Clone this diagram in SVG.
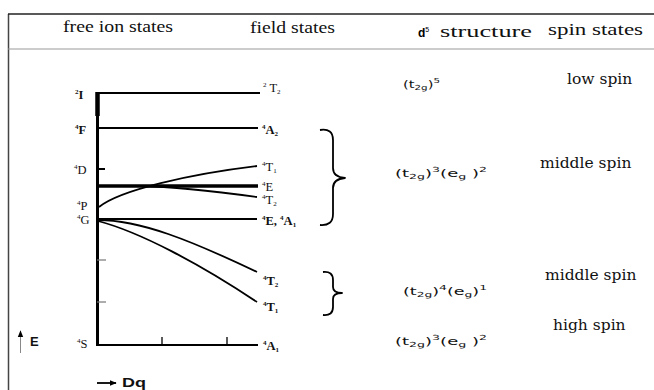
<svg xmlns="http://www.w3.org/2000/svg" width="654" height="390" viewBox="0 0 654 390">
<style>
.hdr{font-family:"Liberation Serif","Times New Roman",serif;font-size:16px;fill:#111}
.spin{font-family:"DejaVu Serif","Liberation Serif",serif;font-size:15.5px;fill:#111}
.lab{font-family:"Liberation Serif","Times New Roman",serif;font-size:12.5px;fill:#111}
.labb{font-family:"Liberation Serif","Times New Roman",serif;font-size:12.5px;font-weight:bold;fill:#111}
.form{font-family:"DejaVu Sans","Liberation Sans",sans-serif;font-size:10px;fill:#111}
.sup{font-size:7px}
.ax{font-family:"Liberation Sans",Arial,sans-serif;font-size:13px;font-weight:bold;fill:#111}
.ln{stroke:#000;stroke-width:2;fill:none}
.cv{stroke:#000;stroke-width:1.8;fill:none}
.br{stroke:#000;stroke-width:1.8;fill:none;stroke-linejoin:round}
.tk{stroke:#777;stroke-width:1.2}
</style>
<defs>
<marker id="ah" viewBox="0 0 10 10" refX="9" refY="5" markerWidth="7" markerHeight="7" orient="auto" markerUnits="userSpaceOnUse">
<path d="M0,1 L10,5 L0,9 Z" fill="#000"/>
</marker>
</defs>
<rect width="654" height="390" fill="#fff"/>
<g id="frame">
<line x1="8.5" y1="14" x2="8.5" y2="390" stroke="#444" stroke-width="1.5"/>
<line x1="8" y1="14" x2="654" y2="14" stroke="#222" stroke-width="1.5"/>
<line x1="8" y1="49" x2="654" y2="49" stroke="#999" stroke-width="1"/>
</g>
<g id="header">
<text class="hdr" x="63" y="32" textLength="110" lengthAdjust="spacingAndGlyphs">free ion states</text>
<text class="hdr" x="250" y="33" textLength="85" lengthAdjust="spacingAndGlyphs">field states</text>
<text x="418" y="37"><tspan font-family="Liberation Sans, Arial, sans-serif" font-size="12" font-weight="bold">d</tspan><tspan font-family="Liberation Sans, Arial, sans-serif" font-size="7" dy="-5">5</tspan></text>
<text class="hdr" x="440" y="37" textLength="92" lengthAdjust="spacingAndGlyphs">structure</text>
<text class="hdr" x="548" y="35" textLength="95" lengthAdjust="spacingAndGlyphs">spin states</text>
</g>
<g id="connectors">
<line x1="97.5" y1="92" x2="97.5" y2="346" stroke="#000" stroke-width="3"/>
<line x1="97.5" y1="92" x2="97.5" y2="116" stroke="#000" stroke-width="4.5"/>
<line class="ln" x1="97" y1="93" x2="260" y2="93"/>
<line class="ln" x1="97" y1="128" x2="258" y2="128"/>
<line class="ln" x1="97" y1="169" x2="105" y2="169"/>
<line x1="97" y1="186" x2="258" y2="186" stroke="#000" stroke-width="3.5"/>
<path class="cv" d="M99,207 C120,190 190,174 257,166"/>
<path class="cv" d="M140,186 C180,187 220,192 257,197"/>
<line class="ln" x1="97" y1="219" x2="257" y2="219"/>
<path class="cv" d="M98,220 C140,220 190,240 257,272"/>
<path class="cv" d="M98,221 C140,232 200,264 257,302"/>
<line class="tk" x1="97" y1="260" x2="106" y2="260"/>
<line class="tk" x1="97" y1="302" x2="106" y2="302"/>
<line class="ln" x1="97" y1="345" x2="258" y2="345"/>
<line x1="162" y1="337" x2="162" y2="345" stroke="#000" stroke-width="1.3"/>
<line x1="227" y1="337" x2="227" y2="345" stroke="#000" stroke-width="1.3"/>
<path class="br" d="M320,130 Q333,128 333,140 L333,168 Q333,177 345,178 Q333,179 333,188 L333,214 Q333,226 320,225"/>
<path class="br" d="M323,272 Q333,271 333,280 L333,287 Q333,293 342,293 Q333,293 333,299 L333,307 Q333,316 323,315"/>
<line x1="20.5" y1="353" x2="20.5" y2="331" stroke="#888" stroke-width="1" marker-end="url(#ah)"/>
<line x1="97" y1="383" x2="116" y2="383" stroke="#000" stroke-width="1.8" marker-end="url(#ah)"/>
</g>
<g id="free-ion">
<text class="labb" x="75" y="99"><tspan class="sup" dy="-5">2</tspan><tspan dy="5">I</tspan></text>
<text class="labb" x="75" y="134"><tspan class="sup" dy="-5">4</tspan><tspan dy="5">F</tspan></text>
<text class="lab" x="74" y="174"><tspan class="sup" dy="-5">4</tspan><tspan dy="5">D</tspan></text>
<text class="lab" x="77" y="210"><tspan class="sup" dy="-5">4</tspan><tspan dy="5">P</tspan></text>
<text class="lab" x="77" y="224"><tspan class="sup" dy="-5">4</tspan><tspan dy="5">G</tspan></text>
<text class="lab" x="77" y="348"><tspan class="sup" dy="-5">4</tspan><tspan dy="5">S</tspan></text>
</g>
<g id="field">
<text class="lab" x="263" y="92"><tspan class="sup" dy="-5">2</tspan><tspan dy="5"> T</tspan><tspan class="sup" dy="2">2</tspan></text>
<text class="labb" x="262" y="134"><tspan class="sup" dy="-5">4</tspan><tspan dy="5">A</tspan><tspan class="sup" dy="2">2</tspan></text>
<text class="lab" x="262" y="171"><tspan class="sup" dy="-5">4</tspan><tspan dy="5">T</tspan><tspan class="sup" dy="2">1</tspan></text>
<text class="lab" x="262" y="191"><tspan class="sup" dy="-5">4</tspan><tspan dy="5">E</tspan></text>
<text class="lab" x="262" y="204"><tspan class="sup" dy="-5">4</tspan><tspan dy="5">T</tspan><tspan class="sup" dy="2">2</tspan></text>
<text class="labb" x="262" y="225"><tspan class="sup" dy="-5">4</tspan><tspan dy="5">E, </tspan><tspan class="sup" dy="-5">4</tspan><tspan dy="5">A</tspan><tspan class="sup" dy="2">1</tspan></text>
<text class="labb" x="263" y="285"><tspan class="sup" dy="-5">4</tspan><tspan dy="5">T</tspan><tspan class="sup" dy="2">2</tspan></text>
<text class="labb" x="263" y="311"><tspan class="sup" dy="-5">4</tspan><tspan dy="5">T</tspan><tspan class="sup" dy="2">1</tspan></text>
<text class="labb" x="263" y="350"><tspan class="sup" dy="-5">4</tspan><tspan dy="5">A</tspan><tspan class="sup" dy="2">1</tspan></text>
</g>
<g id="structure">
<text class="form" x="403" y="88" textLength="37" lengthAdjust="spacingAndGlyphs">(t<tspan class="sup" dy="2">2g</tspan><tspan dy="-2">)</tspan><tspan class="sup" dy="-5">5</tspan></text>
<text class="form" x="395" y="177" textLength="92" lengthAdjust="spacingAndGlyphs">(t<tspan class="sup" dy="2">2g</tspan><tspan dy="-2">)</tspan><tspan class="sup" dy="-5">3</tspan><tspan dy="5">(e</tspan><tspan class="sup" dy="2">g</tspan><tspan dy="-2"> )</tspan><tspan class="sup" dy="-5">2</tspan></text>
<text class="form" x="403" y="295" textLength="84" lengthAdjust="spacingAndGlyphs">(t<tspan class="sup" dy="2">2g</tspan><tspan dy="-2">)</tspan><tspan class="sup" dy="-5">4</tspan><tspan dy="5">(e</tspan><tspan class="sup" dy="2">g</tspan><tspan dy="-2">)</tspan><tspan class="sup" dy="-5">1</tspan></text>
<text class="form" x="395" y="345" textLength="92" lengthAdjust="spacingAndGlyphs">(t<tspan class="sup" dy="2">2g</tspan><tspan dy="-2">)</tspan><tspan class="sup" dy="-5">3</tspan><tspan dy="5">(e</tspan><tspan class="sup" dy="2">g</tspan><tspan dy="-2"> )</tspan><tspan class="sup" dy="-5">2</tspan></text>
</g>
<g id="spin">
<text class="spin" x="567" y="84">low spin</text>
<text class="spin" x="540" y="168">middle spin</text>
<text class="spin" x="545" y="280">middle spin</text>
<text class="spin" x="553" y="330">high spin</text>
</g>
<g id="axes-labels">
<text class="ax" x="30" y="346">E</text>
<text class="ax" x="122" y="387" textLength="24" lengthAdjust="spacingAndGlyphs">Dq</text>
</g>
</svg>
